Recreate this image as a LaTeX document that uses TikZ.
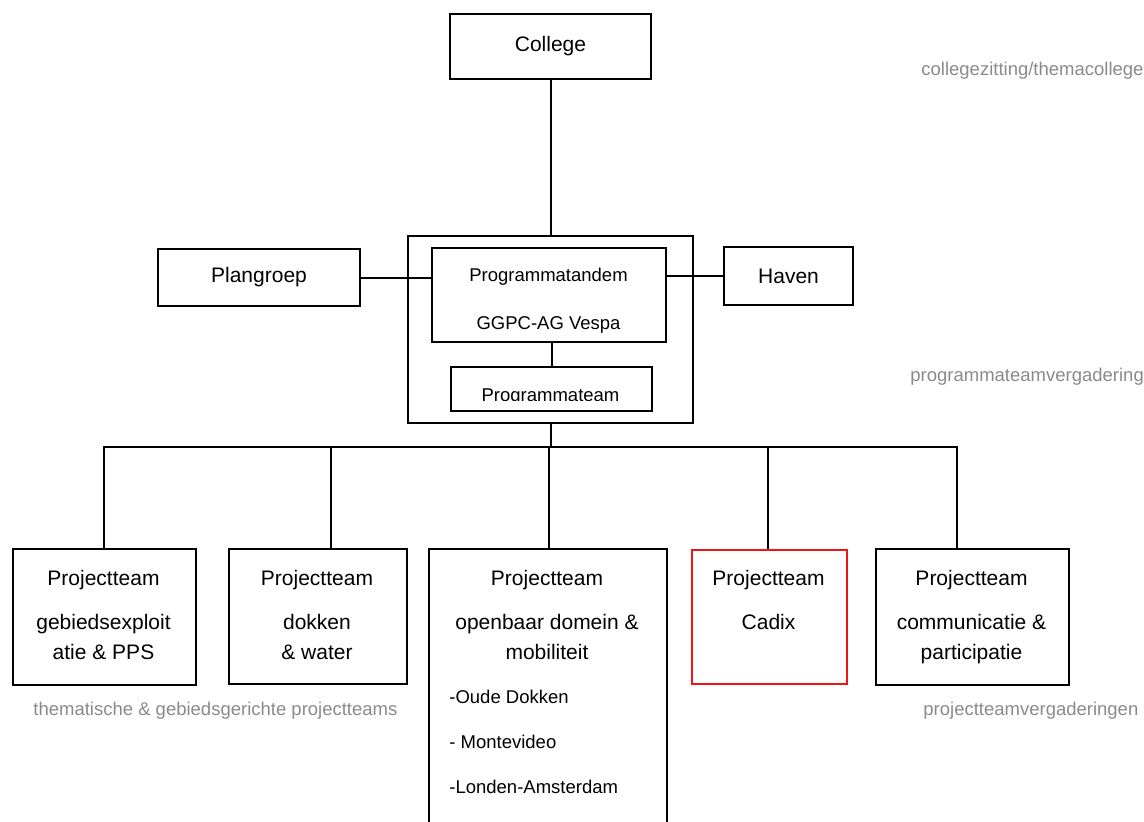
\documentclass[tikz,border=0pt]{standalone}
\usepackage{fontspec}
\setmainfont{Liberation Sans}
\usepackage{tikz}
\usetikzlibrary{positioning,calc}
\definecolor{labelgray}{RGB}{138,138,138}
\definecolor{cadixred}{RGB}{240,20,20}
\tikzstyle{orgbox}=[draw,line width=1pt,inner sep=0pt,anchor=north west,font=\fontsize{10.5}{15}\selectfont]
\tikzstyle{boxtxt}=[inner sep=0pt,anchor=north,align=center,font=\fontsize{10.5}{15}\selectfont]
\tikzstyle{smalltxt}=[inner sep=0pt,align=center,font=\fontsize{9.25}{24}\selectfont]
\tikzstyle{meetlabel}=[inner sep=0pt,anchor=west,text=labelgray,font=\fontsize{9.25}{11}\selectfont]
\tikzstyle{link}=[line width=1pt]

\begin{document}
\begin{tikzpicture}[x=0.5pt,y=-0.5pt]
\clip (0,0) rectangle (1144,821);
% top level
\node [orgbox, minimum width=100.5pt, minimum height=32.5pt] (college) at (449,13) {College};
\node [orgbox, minimum width=142.5pt, minimum height=93.5pt] (omhulsel) at (407,235) {};
\node [orgbox, minimum width=117pt, minimum height=47pt] (tandem) at (431,247) {};
\node [smalltxt, anchor=north] (tandemtxt) at (548.5,267.5) {Programmatandem\\GGPC-AG Vespa};
\node [orgbox, minimum width=100.5pt, minimum height=22pt] (progteam) at (450,366) {};
\begin{scope}
  \clip (452,368) rectangle (649,400);
  \node [smalltxt, anchor=base] (progteamtxt) at (550.5,401) {Programmateam};
\end{scope}
\node [orgbox, minimum width=101pt, minimum height=28.5pt] (plangroep) at (157,248) {Plangroep};
\node [orgbox, minimum width=64.5pt, minimum height=29pt] (haven) at (723,246) {Haven};

% projectteams
\node [orgbox, minimum width=91.5pt, minimum height=68pt] (pt1) at (12,548) {};
\node [orgbox, minimum width=89pt, minimum height=67.5pt] (pt2) at (228,548) {};
\node [orgbox, minimum width=119pt, minimum height=150pt] (pt3) at (428,548) {};
\node [orgbox, draw=cadixred, minimum width=77.5pt, minimum height=67pt] (pt4) at (691,549) {};
\node [orgbox, minimum width=96.5pt, minimum height=68pt] (pt5) at (875,548) {};

\node [boxtxt] (pt1txt) at (103.5,569.5) {Projectteam\\[7pt]gebiedsexploit\\atie \& PPS};
\node [boxtxt] (pt2txt) at (317,569.5) {Projectteam\\[7pt]dokken\\\& water};
\node [boxtxt] (pt3txt) at (547,569.5) {Projectteam\\[7pt]openbaar domein \&\\mobiliteit};
\node [smalltxt, align=left, anchor=north west, font=\fontsize{9.25}{22.5}\selectfont] (pt3list) at (449,690) {-Oude Dokken\\- Montevideo\\-Londen-Amsterdam};
\node [boxtxt] (pt4txt) at (768.5,569.5) {Projectteam\\[7pt]Cadix};
\node [boxtxt] (pt5txt) at (971.5,569.5) {Projectteam\\[7pt]communicatie \&\\participatie};

% connectors
\draw [link] (college.south) -- (omhulsel.north);
\draw [link] (progteam.north |- tandem.south) -- (progteam.north);
\draw [link] (plangroep.east) -- (plangroep.east -| tandem.west);
\draw [link] (haven.west -| tandem.east) -- (haven.west);
\foreach \x [count=\i] in {104,331,549,768,957}
  \coordinate (j\i) at (\x,447);
\draw [link] (omhulsel.south) -- (omhulsel.south |- j3);
\draw [link, line cap=rect] (j1) -- (j5);
\foreach \i in {1,...,5}
  \draw [link] (j\i) -- (j\i |- pt\i.north);

% meeting labels
\node [meetlabel] (lblcollege) at (921,71) {collegezitting/themacollege};
\node [meetlabel] (lblprog) at (910,377) {programmateamvergadering};
\node [meetlabel] (lblthema) at (33,711) {thematische \& gebiedsgerichte projectteams};
\node [meetlabel] (lblproject) at (923,711) {projectteamvergaderingen};
\end{tikzpicture}
\end{document}
